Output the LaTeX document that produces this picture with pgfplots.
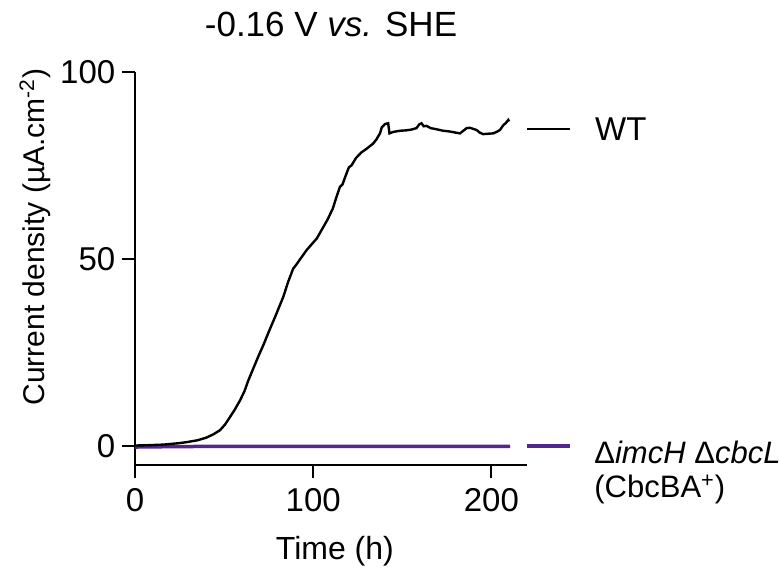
\documentclass[border=0pt]{standalone}
\usepackage{pgfplots}
\pgfplotsset{compat=1.18}
\usepackage{fontspec}
\setmainfont{Liberation Sans}
\definecolor{mutant}{RGB}{84,39,143}

\begin{document}
\fontsize{15.5}{18}\selectfont
\begin{tikzpicture}
\begin{axis}[
    scale only axis,
    width=196pt, height=196.5pt,
    xmin=0, xmax=220, ymin=-5, ymax=100,
    axis lines=left,
    axis line style={-, line width=1pt},
    tick style={line width=1pt, black},
    tick align=outside,
    major tick length=6.5pt,
    xtick={0,100,200}, ytick={0,50,100},
    minor tick num=0,
    /pgf/number format/assume math mode=true,
    ticklabel style={font=\fontsize{16.5}{19}\selectfont},
    yticklabel style={xshift=2pt},
    title={-0.16 V \textit{vs.} SHE},
    title style={at={(axis description cs:0.5,1)}, anchor=base, yshift=11.5pt,
                 font=\fontsize{17.5}{20}\selectfont},
    xlabel={Time (h)},
    xlabel style={at={(axis description cs:0.51,0)}, anchor=base, yshift=-47pt,
                  font=\fontsize{16}{19}\selectfont},
    ylabel={Current density (µA.cm\textsuperscript{-2})},
    ylabel style={at={(axis description cs:-0.255,0.58)}, anchor=center,
                  font=\fontsize{15}{18}\selectfont},
    clip=false,
]

% mutant, flat at zero
\addplot[mutant, line width=1.75pt] coordinates {
  (0,-0.2) (20,-0.1) (50,0) (100,0) (150,0) (210.5,0)
};

% WT
\addplot[black, line width=1.2pt] coordinates {
  (0,0.2) (8,0.3) (16,0.45) (24,0.8) (29,1.1) (35,1.6) (40,2.3) (44,3.2)
  (47.7,4.3) (50.5,5.8) (53.3,7.8) (56,9.8) (59,12.3) (61.5,14.8) (63.6,17.6)
  (66.4,20.8) (69.2,24.0) (72,27) (75,30.5) (79,35) (83.2,39.9) (86,44)
  (88.8,47.5) (90.5,48.5) (93,50.2) (96.3,52.4) (99.2,54) (102,55.5)
  (105.7,58.6) (108,60.5) (111,63.5) (113,66.5) (115,69.3) (116.5,70)
  (118,72) (120,74.5) (121.6,75.1) (124,77) (127,78.5) (130,79.5)
  (133.7,80.9) (135.5,82) (137.5,83.6) (138.5,85.2) (140.3,86.1) (142.1,86.3)
  (142.8,83.6) (145,84) (148.7,84.3) (152,84.4) (155,84.6) (158,85)
  (159.5,86) (160.8,86.3) (162,85.5) (163.6,85.6) (166,85) (169.2,84.7)
  (173,84.3) (176.7,84.1) (180,83.8) (182.4,83.6) (184,84.2) (186.1,85)
  (188,85.1) (191.7,84.5) (193.5,83.8) (195.4,83.4) (198,83.5) (201,83.6)
  (203,84) (204.8,84.5) (206.7,85.8) (208,86.3) (209.5,87.2) (210,86.8)
};

% legend at the line ends
\draw[black, line width=1.1pt] (axis cs:220,84.8) -- (axis cs:244,84.8);
\node[anchor=base west, inner sep=0pt, font=\fontsize{16.5}{19}\selectfont] at (axis cs:258,81.6) {WT};
\draw[mutant, line width=1.75pt] (axis cs:220,0.1) -- (axis cs:244,0.1);
\node[anchor=base west, inner sep=0pt] at (axis cs:257.6,-4.47) {Δ\textit{imcH} Δ\textit{cbcL}};
\node[anchor=base west, inner sep=0pt] at (axis cs:257.6,-13.8) {(CbcBA\textsuperscript{+})};
\end{axis}
\pgfresetboundingbox
\path (-67.5pt,-53pt) rectangle (322.5pt,232.5pt);
\end{tikzpicture}
\end{document}
